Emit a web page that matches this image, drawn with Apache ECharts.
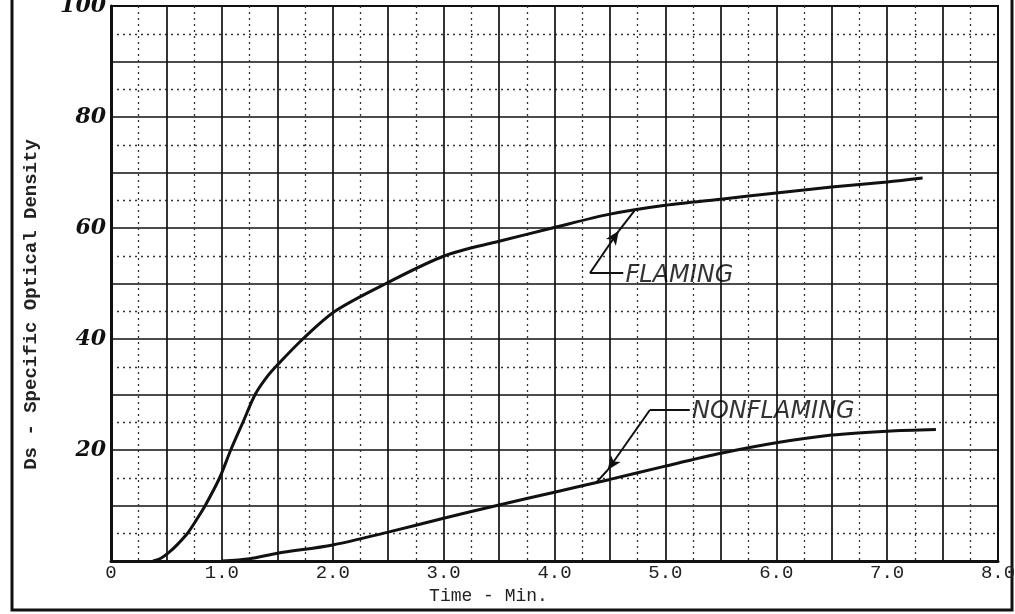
<!DOCTYPE html>
<html><head><meta charset="utf-8">
<script src="https://cdn.jsdelivr.net/npm/echarts@6/dist/echarts.min.js"></script>
<style>html,body{margin:0;padding:0;background:#fff}#c{width:1015px;height:614px}</style>
</head><body><div id="c"></div>
<script>
// Time (min) and specific optical density Ds
const flamingTime    = [0.38, 0.45, 0.52, 0.60, 0.69, 0.77, 0.85, 0.98, 1.08, 1.19, 1.30, 1.40, 1.50, 1.73, 2.02, 2.48, 3.01, 3.50, 3.98, 4.50, 5.00, 5.50, 6.00, 6.50, 7.00, 7.32];
const flamingDensity = [0,    0.5,  1.5,  3.0,  5,    7.4,  10,   15,   20,   25,   30,   33.0, 35.3, 40,   45,   50,   55,   57.6, 60,   62.5, 64.1, 65.2, 66.3, 67.4, 68.3, 69.0];
const nonFlamingTime    = [1.00, 1.25, 1.50, 2.00, 2.50, 3.00, 3.50, 4.00, 4.50, 5.00, 5.50, 6.00, 6.50, 7.00, 7.44];
const nonFlamingDensity = [0,    0.4,  1.4,  2.9,  5.2,  7.7,  10.1, 12.4, 14.7, 17.1, 19.4, 21.3, 22.7, 23.4, 23.7];
const yTickLabels = ['20', '40', '60', '80', '100'];
const xTickLabels = ['0', '1.0', '2.0', '3.0', '4.0', '5.0', '6.0', '7.0', '8.0'];
// annotation leader lines (data coordinates)
const flamingLabel = {text: 'FLAMING', at: [4.64, 51.4], elbow: [4.32, 51.9], shelf: [4.62, 51.9], arrowTip: [4.58, 59.5], target: [4.72, 63.1]};
const nonFlamingLabel = {text: 'NONFLAMING', at: [5.24, 26.9], elbow: [4.86, 27.2], shelf: [5.22, 27.2], arrowTip: [4.48, 16.4], target: [4.38, 14.2]};

const zip = (a, b) => a.map((v, i) => [v, b[i]]);
const chart = echarts.init(document.getElementById('c'));
const ink = '#111';
const leader = (ann) => ({
  silent: true,
  label: {show: false},
  lineStyle: {color: ink, width: 2, type: 'solid'},
  emphasis: {disabled: true},
  data: [
    [{coord: ann.elbow, symbol: 'none'}, {coord: ann.shelf, symbol: 'none'}],
    [{coord: ann.elbow, symbol: 'none'}, {coord: ann.arrowTip, symbol: 'arrow', symbolSize: [9, 14]}],
    [{coord: ann.arrowTip, symbol: 'none'}, {coord: ann.target, symbol: 'none'}]
  ]
});
const textSeries = (ann) => ({
  type: 'scatter', data: [ann.at], symbolSize: 0, silent: true,
  label: {show: true, formatter: ann.text, position: 'right', distance: 0,
    color: '#000', fontFamily: 'DejaVu Sans', fontStyle: 'italic', fontSize: 24}
});

chart.setOption({
  animation: false,
  backgroundColor: '#fff',
  grid: {left: 111, right: 17, top: 6, bottom: 53, show: true, borderColor: ink, borderWidth: 2,
    containLabel: false, outerBoundsMode: 'none'},
  xAxis: {
    type: 'value', min: 0, max: 8, interval: 0.5,
    name: 'Time - Min.', nameLocation: 'middle', nameGap: 18,
    nameTextStyle: {fontFamily: 'Liberation Mono', fontSize: 18, color: '#222', padding: [0, 132, 0, 0]},
    axisLine: {show: true, lineStyle: {color: ink, width: 3}},
    axisTick: {show: false},
    axisLabel: {margin: 2, fontFamily: 'Liberation Mono', fontSize: 19, color: '#222',
      formatter: v => Number.isInteger(v) ? xTickLabels[v] : ''},
    splitLine: {show: true, lineStyle: {color: ink, width: 1.7}},
    minorTick: {show: false, splitNumber: 2},
    minorSplitLine: {show: true, lineStyle: {color: '#333', width: 1.3, type: [2, 4]}}
  },
  yAxis: {
    type: 'value', min: 0, max: 100, interval: 10,
    name: 'Ds - Specific Optical Density', nameLocation: 'middle', nameGap: 70,
    nameTextStyle: {fontFamily: 'Liberation Mono', fontWeight: 'bold', fontSize: 19, color: '#222', padding: [0, 42, 0, 0]},
    axisLine: {show: true, lineStyle: {color: ink, width: 3}},
    axisTick: {show: false},
    axisLabel: {margin: 5, fontFamily: 'DejaVu Serif', fontStyle: 'italic', fontWeight: 'bold', fontSize: 22, color: ink,
      formatter: v => (v > 0 && v % 20 === 0) ? yTickLabels[v / 20 - 1] : ''},
    splitLine: {show: true, lineStyle: {color: ink, width: 1.7}},
    minorTick: {show: false, splitNumber: 2},
    minorSplitLine: {show: true, lineStyle: {color: '#333', width: 1.3, type: [2, 4]}}
  },
  graphic: [{type: 'rect', silent: true, shape: {x: 12, y: -10, width: 1000, height: 620},
    style: {fill: 'none', stroke: ink, lineWidth: 3}}],
  series: [
    {name: 'Flaming', type: 'line', data: zip(flamingTime, flamingDensity), smooth: 0.3,
      showSymbol: false, lineStyle: {color: ink, width: 3}, markLine: leader(flamingLabel)},
    {name: 'Non Flaming', type: 'line', data: zip(nonFlamingTime, nonFlamingDensity), smooth: 0.3,
      showSymbol: false, lineStyle: {color: ink, width: 3}, markLine: leader(nonFlamingLabel)},
    textSeries(flamingLabel),
    textSeries(nonFlamingLabel)
  ]
});
</script></body></html>
